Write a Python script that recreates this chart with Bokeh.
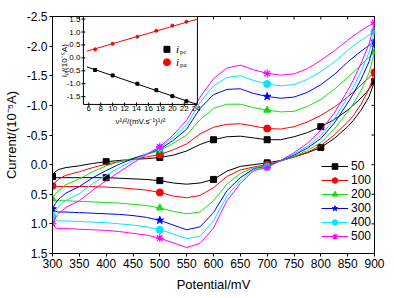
import math
from bokeh.plotting import figure
from bokeh.models import Range1d, FixedTicker, PrintfTickFormatter, Legend, LegendItem
from bokeh.core.properties import value
from bokeh.embed import file_html
from bokeh.resources import INLINE

# ---------------- data ----------------
SCAN_RATES = ["50", "100", "200", "300", "400", "500"]

E_FWD = [300, 305, 312, 325, 350, 375, 400, 425, 450, 475, 500, 525, 550, 575, 600,
         625, 650, 675, 700, 725, 750, 775, 800, 825, 850, 870, 885, 900]
E_REV = [900, 890, 875, 860, 850, 825, 800, 775, 750, 725, 700, 675, 650, 625, 600,
         575, 550, 525, 500, 475, 450, 425, 400, 375, 350, 325, 310, 305, 300]

I_FWD_50 = [0.20, 0.12, 0.08, 0.05, 0.02, -0.02, -0.05, -0.07, -0.09, -0.10, -0.12, -0.16, -0.23, -0.34, -0.42,
            -0.47, -0.48, -0.45, -0.42, -0.42, -0.47, -0.54, -0.64, -0.76, -0.92, -1.08, -1.22, -1.40]
I_REV_50 = [-1.40, -1.15, -0.92, -0.74, -0.64, -0.44, -0.29, -0.20, -0.13, -0.07, -0.03, 0.00, 0.03, 0.11, 0.25,
            0.31, 0.33, 0.31, 0.27, 0.25, 0.24, 0.23, 0.22, 0.22, 0.22, 0.22, 0.22, 0.22, 0.20]

I_FWD_100 = [0.36, 0.30, 0.24, 0.18, 0.12, 0.05, -0.01, -0.05, -0.09, -0.13, -0.17, -0.25, -0.35, -0.52, -0.63,
             -0.68, -0.69, -0.65, -0.61, -0.60, -0.64, -0.72, -0.83, -0.97, -1.14, -1.30, -1.43, -1.56]
I_REV_100 = [-1.56, -1.28, -1.02, -0.82, -0.72, -0.50, -0.32, -0.21, -0.13, -0.06, 0.00, 0.04, 0.09, 0.20, 0.39,
             0.52, 0.56, 0.53, 0.47, 0.43, 0.41, 0.39, 0.38, 0.37, 0.37, 0.37, 0.37, 0.37, 0.36]

I_FWD_200 = [0.58, 0.50, 0.43, 0.34, 0.24, 0.12, 0.02, -0.05, -0.11, -0.17, -0.24, -0.36, -0.50, -0.76, -0.95,
             -1.02, -1.02, -0.96, -0.92, -0.89, -0.90, -0.98, -1.10, -1.27, -1.47, -1.64, -1.77, -1.90]
I_REV_200 = [-1.90, -1.55, -1.25, -1.02, -0.89, -0.60, -0.37, -0.24, -0.14, -0.06, 0.02, 0.05, 0.15, 0.33, 0.61,
             0.80, 0.83, 0.79, 0.73, 0.69, 0.67, 0.65, 0.64, 0.63, 0.62, 0.61, 0.61, 0.60, 0.58]

I_FWD_300 = [0.75, 0.66, 0.58, 0.48, 0.37, 0.22, 0.10, -0.01, -0.10, -0.18, -0.26, -0.41, -0.60, -0.95, -1.18,
             -1.27, -1.28, -1.20, -1.15, -1.12, -1.14, -1.22, -1.35, -1.52, -1.73, -1.88, -1.98, -2.08]
I_REV_300 = [-2.08, -1.74, -1.44, -1.19, -1.04, -0.70, -0.44, -0.28, -0.16, -0.07, 0.03, 0.07, 0.22, 0.44, 0.81,
             1.05, 1.10, 1.02, 0.94, 0.89, 0.86, 0.84, 0.83, 0.82, 0.81, 0.80, 0.80, 0.79, 0.75]

I_FWD_400 = [0.88, 0.78, 0.70, 0.60, 0.49, 0.32, 0.18, 0.05, -0.07, -0.18, -0.28, -0.46, -0.67, -1.05, -1.33,
             -1.47, -1.50, -1.42, -1.36, -1.33, -1.35, -1.44, -1.57, -1.73, -1.93, -2.07, -2.16, -2.25]
I_REV_400 = [-2.25, -1.90, -1.57, -1.30, -1.14, -0.77, -0.49, -0.31, -0.18, -0.07, 0.04, 0.08, 0.27, 0.53, 0.95,
             1.21, 1.25, 1.17, 1.10, 1.05, 1.02, 1.00, 0.98, 0.97, 0.96, 0.95, 0.95, 0.93, 0.88]

I_FWD_500 = [1.00, 0.90, 0.82, 0.72, 0.61, 0.43, 0.27, 0.12, -0.03, -0.17, -0.30, -0.50, -0.75, -1.14, -1.45,
             -1.63, -1.68, -1.60, -1.54, -1.51, -1.53, -1.62, -1.76, -1.92, -2.10, -2.23, -2.32, -2.40]
I_REV_500 = [-2.40, -2.04, -1.71, -1.42, -1.25, -0.87, -0.58, -0.36, -0.20, -0.07, 0.05, 0.10, 0.32, 0.61, 1.07,
             1.33, 1.40, 1.32, 1.24, 1.19, 1.16, 1.13, 1.11, 1.10, 1.09, 1.08, 1.08, 1.06, 1.00]

MARK_E_50 = [300, 400, 500, 600, 700, 800, 900]
MARK_E_OTHER = [300, 500, 700, 900]

X_TICKS = [300, 350, 400, 450, 500, 550, 600, 650, 700, 750, 800, 850, 900]
Y_TICKS = [-2.5, -2.0, -1.5, -1.0, -0.5, 0.0, 0.5, 1.0, 1.5]

# inset data: peak currents vs square root of scan rate
SQRT_V = [7.07, 10.0, 14.14, 17.32, 20.0, 22.36]
I_PA = [0.33, 0.55, 0.82, 1.05, 1.25, 1.40]
I_PC = [-0.47, -0.68, -1.00, -1.25, -1.48, -1.68]
FIT_X_PA = [5.7, 24.2]
FIT_I_PA = [0.26, 1.50]
FIT_X_PC = [5.7, 24.0]
FIT_I_PC = [-0.35, -1.79]
INSET_X_TICKS = [6, 8, 10, 12, 14, 16, 18, 20, 22, 24]
INSET_Y_TICKS = [-1.5, -1.0, -0.5, 0.0, 0.5, 1.0, 1.5]

# ---------------- styles ----------------
FONT = "Liberation Sans"
COLORS = ["#000000", "#FF0000", "#10E010", "#0000FF", "#00E8FF", "#FF00FF"]
MARKERS = ["square", "circle", "triangle", "star", "circle", "asterisk"]
MSIZES = [6, 7, 7, 8, 7, 8]

INSET_XLIM = (5.1, 24.2)
INSET_YLIM = (-1.8, 1.6)
# inset box as fractions of the main frame: left, right, top, bottom (measured from top)
FL, FR, FT, FB = 0.096, 0.45, 0.0, 0.371

p = figure(width=394, height=298, output_backend="svg", toolbar_location=None,
           x_range=Range1d(300, 900), y_range=Range1d(1.5, -2.5),
           min_border_left=51, min_border_right=20, min_border_top=16, min_border_bottom=45)
p.outline_line_color = "black"
p.outline_line_width = 1
p.xgrid.visible = False
p.ygrid.visible = False

p.xaxis.ticker = FixedTicker(ticks=X_TICKS)
p.yaxis.ticker = FixedTicker(ticks=Y_TICKS)
p.yaxis.formatter = PrintfTickFormatter(format="%.1f")
p.xaxis.axis_label = "Potential/mV"
p.yaxis.axis_label = "Current/(10\u207b\u2075A)"
for ax in (p.xaxis[0], p.yaxis[0]):
    ax.axis_line_color = "black"
    ax.major_tick_line_color = "black"
    ax.major_tick_out = 3
    ax.major_tick_in = 0
    ax.minor_tick_line_color = None
    ax.major_label_text_font = FONT
    ax.major_label_text_font_size = "12px"
    ax.major_label_text_color = "black"
    ax.major_label_standoff = 2
    ax.axis_label_text_font = FONT
    ax.axis_label_text_font_size = "13px"
    ax.axis_label_text_font_style = "normal"
    ax.axis_label_text_color = "black"
p.xaxis.axis_label_standoff = 6
p.yaxis.axis_label_standoff = 5

# inward ticks on the top and right edges of the frame
p.scatter(X_TICKS, [Y_TICKS[0]] * len(X_TICKS), marker="dash", size=6, angle=math.pi / 2,
          line_color="black", line_width=1)
p.scatter([X_TICKS[-1]] * len(Y_TICKS), Y_TICKS, marker="dash", size=6,
          line_color="black", line_width=1)

I_FWD = [I_FWD_50, I_FWD_100, I_FWD_200, I_FWD_300, I_FWD_400, I_FWD_500]
I_REV = [I_REV_50, I_REV_100, I_REV_200, I_REV_300, I_REV_400, I_REV_500]

items = []
for k, rate in enumerate(SCAN_RATES):
    xs = E_FWD + E_REV[1:]
    ys = I_FWD[k] + I_REV[k][1:]
    lr = p.line(xs, ys, line_color=COLORS[k], line_width=1)
    mark_e = MARK_E_50 if k == 0 else MARK_E_OTHER
    mx, my = [], []
    for e in mark_e:
        mx.append(e)
        my.append(I_FWD[k][E_FWD.index(e)])
        if e not in (300, 900):
            mx.append(e)
            my.append(I_REV[k][E_REV.index(e)])
    sr = p.scatter(mx, my, marker=MARKERS[k], size=MSIZES[k], line_color=COLORS[k],
                   fill_color=COLORS[k], line_width=1.2 if MARKERS[k] == "asterisk" else 1)
    items.append(LegendItem(label=rate, renderers=[lr, sr]))

legend = Legend(items=items, location=(269, 10), padding=0, spacing=0, margin=0,
                border_line_color=None, background_fill_alpha=0,
                glyph_width=27, glyph_height=14, label_height=14, label_standoff=3,
                label_text_font=FONT, label_text_font_size="12px", label_text_color="black")
p.add_layout(legend)

# ---------------- inset (own scales mapped into the upper-left of the frame) ----------------
xspan = (INSET_XLIM[1] - INSET_XLIM[0]) / (FR - FL)
ix0 = INSET_XLIM[0] - FL * xspan
yspan = (INSET_YLIM[1] - INSET_YLIM[0]) / (FB - FT)
iy1 = INSET_YLIM[1] + FT * yspan
p.extra_x_ranges = {"ix": Range1d(ix0, ix0 + xspan)}
p.extra_y_ranges = {"iy": Range1d(iy1 - yspan, iy1)}
R = dict(x_range_name="ix", y_range_name="iy")

p.quad(left=[INSET_XLIM[0]], right=[INSET_XLIM[1]], bottom=[INSET_YLIM[0]], top=[INSET_YLIM[1]],
       fill_color="white", line_color="black", line_width=1, **R)
p.scatter([INSET_XLIM[0]] * len(INSET_Y_TICKS), INSET_Y_TICKS, marker="dash", size=4,
          line_color="black", **R)
p.scatter(INSET_X_TICKS, [INSET_YLIM[0]] * len(INSET_X_TICKS), marker="dash", size=4,
          angle=math.pi / 2, line_color="black", **R)
p.text([INSET_XLIM[0]] * len(INSET_Y_TICKS), INSET_Y_TICKS, text=["%.1f" % t for t in INSET_Y_TICKS],
       x_offset=-3, text_align="right", text_baseline="middle", text_font=value(FONT),
       text_font_size="8px", text_color="black", **R)
p.text(INSET_X_TICKS, [INSET_YLIM[0]] * len(INSET_X_TICKS), text=[str(t) for t in INSET_X_TICKS],
       y_offset=2, text_align="center", text_baseline="top", text_font=value(FONT),
       text_font_size="8px", text_color="black", **R)
xmid = (INSET_XLIM[0] + INSET_XLIM[1]) / 2
ymid = (INSET_YLIM[0] + INSET_YLIM[1]) / 2
p.text([xmid], [INSET_YLIM[0]], text=["\u03bd\u00b9/\u00b2/(mV.s\u207b\u00b9)\u00b9/\u00b2"],
       y_offset=13, text_align="center", text_baseline="top", text_font=value(FONT),
       text_font_size="8px", text_color="black", **R)
p.text([INSET_XLIM[0]], [ymid], text=["i\u209a/(10\u207b\u2075A)"], angle=math.pi / 2,
       x_offset=-19, text_align="center", text_baseline="middle", text_font=value(FONT),
       text_font_size="8px", text_color="black", **R)

p.line(FIT_X_PA, FIT_I_PA, line_color="#FF0000", line_width=1, **R)
p.line(FIT_X_PC, FIT_I_PC, line_color="#000000", line_width=1, **R)
p.scatter(SQRT_V, I_PA, marker="circle", size=3, color="#FF0000", **R)
p.scatter(SQRT_V, I_PC, marker="square", size=3, color="#000000", **R)

# inset legend
LEG_X = [19.1]
LEG_TX = [20.6]
p.scatter(LEG_X, [0.33], marker="square", size=6, color="#000000", **R)
p.scatter(LEG_X, [-0.17], marker="circle", size=7, color="#FF0000", **R)
for yy, sub in ((0.33, "pc"), (-0.17, "pa")):
    p.text(LEG_TX, [yy], text=["i"], text_align="left", text_baseline="middle",
           text_font=value("Liberation Serif"), text_font_style="italic",
           text_font_size="11px", text_color="black", **R)
    p.text(LEG_TX, [yy], text=[sub], x_offset=4, y_offset=3, text_align="left",
           text_baseline="middle", text_font=value("Liberation Serif"),
           text_font_size="7px", text_color="black", **R)

open("out.html", "w").write(file_html(p, INLINE))
